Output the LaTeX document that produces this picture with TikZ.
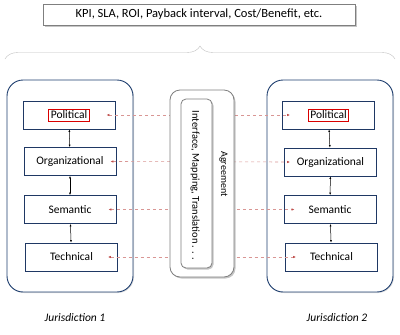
\documentclass[tikz,border=0pt]{standalone}
\usepackage{fontspec}
\setmainfont{Carlito}
\usetikzlibrary{positioning, arrows.meta, shadows, decorations.pathreplacing}
\definecolor{frameblue}{HTML}{1F3F6F}
\definecolor{boxblue}{HTML}{1F3864}
\definecolor{linkred}{HTML}{C0504D}
\definecolor{framegray}{HTML}{7F7F7F}

\begin{document}
\begin{tikzpicture}[x=1pt, y=-1pt, font=\fontsize{11.5}{13}\selectfont,
    level/.style={rectangle, draw=boxblue, line width=0.8pt, fill=white, minimum width=92pt, minimum height=28pt},
    jur/.style={rectangle, draw=frameblue, line width=0.9pt, rounded corners=16pt, minimum width=126pt, minimum height=212pt,
        drop shadow={shadow xshift=1pt, shadow yshift=-1pt, opacity=0.25}, fill=white},
    link/.style={draw=linkred!60, dashed, line width=0.6pt,
        {Latex[length=3pt,width=2.5pt,color=linkred]}-{Latex[length=3pt,width=2.5pt,color=linkred]}},
    updown/.style={{Latex[length=2.5pt,width=2pt]}-{Latex[length=2.5pt,width=2pt]}, line width=0.5pt},
    grayframe/.style={draw=framegray, line width=0.8pt, fill=white,
        drop shadow={shadow xshift=1.5pt, shadow yshift=-1.5pt, opacity=0.45}}]
    \useasboundingbox (0,0) rectangle (400,335);

    % Metrics box and brace
    \node[grayframe, minimum width=312pt, minimum height=21pt, font=\fontsize{12.5}{14}\selectfont] (metrics) at (199,14.5) {KPI, SLA, ROI, Payback interval, Cost/Benefit, etc.};
    \draw[framegray!50, decorate, decoration={brace, amplitude=13pt}] (5,59) -- (395,59);

    % Jurisdictions
    \node[jur] (jur1) at (70,186) {};
    \node[jur] (jur2) at (330,186) {};

    % Levels, left side
    \node[level] (lpol) at (69,115) {};
    \node[draw=red!85!black, line width=0.8pt, inner sep=2pt] (lpoltxt) at (lpol) {Political};
    \node[level] (lorg) at (70,161.5) {Organizational};
    \node[level] (lsem) at (70,209.5) {Semantic};
    \node[level] (ltec) at (71.5,257) {Technical};

    % Levels, right side
    \node[level] (rpol) at (328.5,115) {};
    \node[draw=red!85!black, line width=0.8pt, inner sep=2pt] (rpoltxt) at (rpol) {Political};
    \node[level] (rorg) at (330.5,162) {Organizational};
    \node[level] (rsem) at (330,209.5) {Semantic};
    \node[level] (rtec) at (331.5,257) {Technical};

    % Arrows between levels
    \draw[updown] (lpol) -- (lorg);
    \draw[updown] (lorg) -- (lsem);
    \draw[updown] (lsem) -- (ltec);
    \draw[updown] (rpol) -- (rorg);
    \draw[updown] (rorg) -- (rsem);
    \draw[updown] (rsem) -- (rtec);

    % Links across
    \draw[link] ([xshift=-9pt]lpol.east) -- ([xshift=8pt]rpol.west);
    \draw[link] ([xshift=-6pt]lorg.east) -- ([xshift=6pt]rorg.west);
    \draw[link] ([xshift=-8pt]lsem.east) -- ([xshift=11pt]rsem.west);
    \draw[link] ([xshift=-10pt]ltec.east) -- ([xshift=11pt]rtec.west);

    % Agreement in the middle
    \node[grayframe, rounded corners=10pt, minimum width=64pt, minimum height=187pt] (agree) at (202,183.5) {};
    \node[grayframe, rounded corners=5pt, minimum width=31pt, minimum height=169pt] (iface) at (196.5,183.5) {};
    \node[rotate=-90, font=\fontsize{10.5}{12}\selectfont] (ifacetxt) at (195,185.5) {Interface, Mapping, Translation . . .};
    \node[rotate=-90, font=\fontsize{10}{12}\selectfont] (agreetxt) at (223.5,174) {Agreement};

    % Labels
    \node[font=\fontsize{11.5}{13}\selectfont\itshape] (lab1) at (75,318) {Jurisdiction 1};
    \node[font=\fontsize{11.5}{13}\selectfont\itshape] (lab2) at (337,318) {Jurisdiction 2};
\end{tikzpicture}
\end{document}
